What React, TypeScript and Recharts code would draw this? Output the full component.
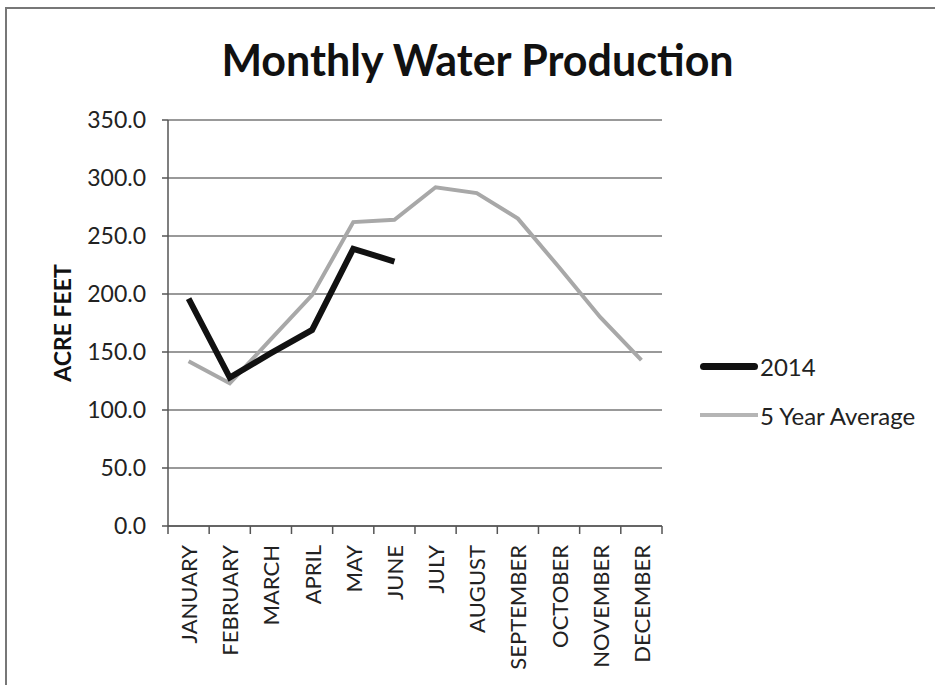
import { LineChart, Line, XAxis, YAxis, CartesianGrid } from 'recharts'

const MONTHS = [
  'JANUARY', 'FEBRUARY', 'MARCH', 'APRIL', 'MAY', 'JUNE',
  'JULY', 'AUGUST', 'SEPTEMBER', 'OCTOBER', 'NOVEMBER', 'DECEMBER',
]
const Y2014 = [196, 128, 149, 169, 239, 228, null, null, null, null, null, null]
const AVG5 = [142, 123, 161, 199, 262, 264, 292, 287, 265, 223, 180, 143]
const Y_TICKS = [0, 50, 100, 150, 200, 250, 300, 350]

const data = MONTHS.map((m, i) => ({ month: m, y2014: Y2014[i], avg: AVG5[i] }))

const FONT = 'Lato, "Open Sans", sans-serif'
const HALF_BAND = 20.6

function MonthTick(props: any) {
  const { x, y, payload, index } = props
  return (
    <g>
      <line x1={x - HALF_BAND} y1={y - 8} x2={x - HALF_BAND} y2={y} stroke="#555" strokeWidth={1.5} />
      {index === MONTHS.length - 1 && (
        <line x1={x + HALF_BAND} y1={y - 8} x2={x + HALF_BAND} y2={y} stroke="#555" strokeWidth={1.5} />
      )}
      <text
        x={x}
        y={y + 11}
        transform={`rotate(-90 ${x} ${y + 11})`}
        textAnchor="end"
        dominantBaseline="central"
        fontSize={22}
        fill="#222"
        fontFamily={FONT}
      >
        {payload.value}
      </text>
    </g>
  )
}

export default function App() {
  return (
    <div style={{ position: 'absolute', left: 0, top: 0, width: 935, height: 685, background: '#fff', overflow: 'hidden' }}>
      <div
        style={{
          position: 'absolute', left: 5, top: 7, width: 940, height: 690,
          border: '2px solid #777', boxSizing: 'border-box',
        }}
      />
      <div
        style={{
          position: 'absolute', left: 0, top: 32, width: 955, textAlign: 'center',
          fontFamily: FONT, fontWeight: 700, fontSize: 43, color: '#111', lineHeight: '56px',
        }}
      >
        Monthly Water Production
      </div>
      <div
        style={{
          position: 'absolute', left: 62, top: 323, transform: 'translate(-50%, -50%) rotate(-90deg)',
          fontFamily: FONT, fontWeight: 700, fontSize: 23, color: '#111', whiteSpace: 'nowrap',
        }}
      >
        ACRE FEET
      </div>
      <div style={{ position: 'absolute', left: 700, top: 350, fontFamily: FONT, fontSize: 24, color: '#222' }}>
        <div style={{ display: 'flex', alignItems: 'center', height: 32 }}>
          <span style={{ width: 58, height: 7, background: '#111', borderRadius: 4, marginRight: 2 }} />
          2014
        </div>
        <div style={{ display: 'flex', alignItems: 'center', height: 32, marginTop: 17 }}>
          <span style={{ width: 58, height: 4, background: '#b5b5b5', marginRight: 2 }} />
          5 Year Average
        </div>
      </div>
      <LineChart
        width={935}
        height={685}
        data={data}
        margin={{ top: 120, right: 273, bottom: 0, left: 0 }}
        style={{ position: 'absolute', left: 0, top: 0 }}
      >
        <CartesianGrid vertical={false} stroke="#777" strokeWidth={1.5} />
        <XAxis
          dataKey="month"
          interval={0}
          height={159}
          padding={{ left: HALF_BAND, right: HALF_BAND }}
          tickLine={false}
          axisLine={{ stroke: '#555', strokeWidth: 1.5 }}
          tick={<MonthTick />}
        />
        <YAxis
          width={168}
          domain={[0, 350]}
          ticks={Y_TICKS}
          tickFormatter={(v: number) => v.toFixed(1)}
          tickSize={6}
          tickMargin={16}
          tickLine={{ stroke: '#555', strokeWidth: 1.5 }}
          axisLine={{ stroke: '#555', strokeWidth: 1.5 }}
          tick={{ fontSize: 23, fill: '#222', fontFamily: FONT }}
        />
        <Line
          type="linear"
          dataKey="avg"
          stroke="#a8a8a8"
          strokeWidth={4}
          dot={false}
          isAnimationActive={false}
        />
        <Line
          type="linear"
          dataKey="y2014"
          stroke="#111"
          strokeWidth={6}
          dot={false}
          isAnimationActive={false}
        />
      </LineChart>
    </div>
  )
}
